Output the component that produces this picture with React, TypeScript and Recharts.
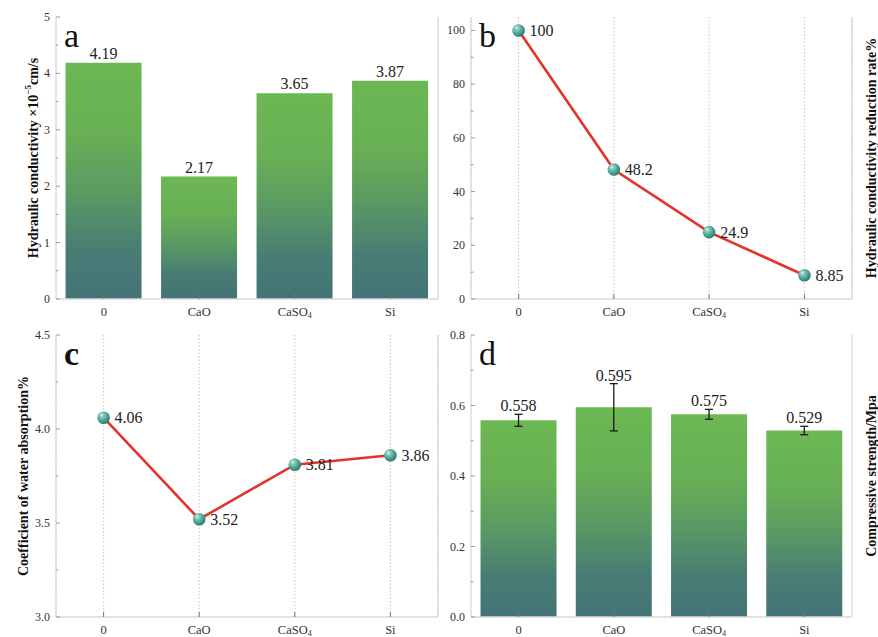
import React from 'react';
import {
  BarChart,
  Bar,
  LineChart,
  Line,
  XAxis,
  YAxis,
  CartesianGrid,
  LabelList,
  ErrorBar,
} from 'recharts';

// Sample groups shared by all four panels
const categories = ['0', 'CaO', 'CaSO4', 'Si'];

// (a) hydraulic conductivity, ×10^-5 cm/s
const conductivity = [4.19, 2.17, 3.65, 3.87];
// (b) hydraulic conductivity reduction rate, %
const reductionRate = [100, 48.2, 24.9, 8.85];
// (c) coefficient of water absorption, %
const waterAbsorption = [4.06, 3.52, 3.81, 3.86];
// (d) compressive strength, MPa, with its error
const strength = [0.558, 0.595, 0.575, 0.529];
const strengthErr = [0.017, 0.067, 0.014, 0.012];

// Y-axis ticks (major + minor)
const ticksA = [0, 0.5, 1, 1.5, 2, 2.5, 3, 3.5, 4, 4.5, 5];
const ticksB = [0, 10, 20, 30, 40, 50, 60, 70, 80, 90, 100];
const ticksC = [3, 3.25, 3.5, 3.75, 4, 4.25, 4.5];
const ticksD = [0, 0.1, 0.2, 0.3, 0.4, 0.5, 0.6, 0.7, 0.8];

const dataA = categories.map((name, i) => ({ name, value: conductivity[i] }));
const dataB = categories.map((name, i) => ({ name, value: reductionRate[i] }));
const dataC = categories.map((name, i) => ({ name, value: waterAbsorption[i] }));
const dataD = categories.map((name, i) => ({ name, value: strength[i], err: strengthErr[i] }));

const SERIF = '"Liberation Serif", "Times New Roman", serif';
const FRAME = '#d9d9d9';
const TICK_TEXT = '#333';
const TICK_MARGIN = 6;
const X_TICK_MARGIN = 8;
const LINE_RED = '#e3332b';
const GRID_TAN = '#d6c69c';

function YTick(props: any) {
  const { x, y, payload, step, digits } = props;
  const v = Number(payload.value);
  const ax = x + TICK_MARGIN;
  const major = Math.abs(v / step - Math.round(v / step)) < 1e-6;
  return (
    <g>
      <line x1={ax} x2={ax + (major ? 4 : 2.5)} y1={y} y2={y} stroke="#9a9a9a" strokeWidth={1} />
      {major && (
        <text
          x={x}
          y={y}
          textAnchor="end"
          dominantBaseline="central"
          fontFamily={SERIF}
          fontSize={12}
          fill={TICK_TEXT}
        >
          {v.toFixed(digits)}
        </text>
      )}
    </g>
  );
}

function XTick(props: any) {
  const { x, y, payload } = props;
  const axisY = y - X_TICK_MARGIN;
  const label = String(payload.value);
  const m = /^([A-Za-z]+)(\d+)$/.exec(label);
  return (
    <g>
      <line x1={x} x2={x} y1={axisY} y2={axisY - 5} stroke="#777" strokeWidth={1} />
      <text x={x} y={y + 8.5} textAnchor="middle" fontFamily={SERIF} fontSize={12.5} fill={TICK_TEXT}>
        {m ? (
          <>
            {m[1]}
            <tspan dy={2.5} fontSize={8}>
              {m[2]}
            </tspan>
          </>
        ) : (
          label
        )}
      </text>
    </g>
  );
}

// Left-axis decoration: the rotated axis title (optional) and the panel letter
function LeftDecor(props: any) {
  const { viewBox, dx, letter, bold, children } = props;
  const cx = viewBox.x + dx;
  const cy = viewBox.y + viewBox.height / 2;
  return (
    <g>
      {children && (
        <text
          x={cx}
          y={cy}
          transform={`rotate(-90 ${cx} ${cy})`}
          textAnchor="middle"
          dominantBaseline="central"
          fontFamily={SERIF}
          fontWeight="bold"
          fontSize={14}
          fill="#111"
        >
          {children}
        </text>
      )}
      <text
        x={viewBox.x + viewBox.width + 8}
        y={viewBox.y + 30}
        fontFamily={SERIF}
        fontSize={34}
        fontWeight={bold ? 'bold' : 'normal'}
        fill="#111"
      >
        {letter}
      </text>
    </g>
  );
}

function VTitle(props: any) {
  const { viewBox, dx, children } = props;
  const cx = viewBox.x + dx;
  const cy = viewBox.y + viewBox.height / 2;
  return (
    <text
      x={cx}
      y={cy}
      transform={`rotate(-90 ${cx} ${cy})`}
      textAnchor="middle"
      dominantBaseline="central"
      fontFamily={SERIF}
      fontWeight="bold"
      fontSize={14}
      fill="#111"
    >
      {children}
    </text>
  );
}

function StrengthLabel(props: any) {
  const vb = props.viewBox || {};
  const x = vb.x ?? props.x;
  const y = vb.y ?? props.y;
  const width = vb.width ?? props.width;
  const height = vb.height ?? props.height;
  const value = Number(props.value);
  const i = strength.indexOf(value);
  const err = i >= 0 ? strengthErr[i] : 0;
  const top = y - (err * Math.abs(height)) / value;
  return (
    <text x={x + width / 2} y={top - 3} textAnchor="middle" fontFamily={SERIF} fontSize={16} fill="#222">
      {value}
    </text>
  );
}

const ball = (gid: string) => (p: any) =>
  p.cx == null ? <g key={p.index} /> : <circle key={p.index} cx={p.cx} cy={p.cy} r={6.3} fill={`url(#${gid})`} />;

function BarGradient({ id }: { id: string }) {
  return (
    <linearGradient id={id} x1="0" y1="0" x2="0" y2="1">
      <stop offset="0" stopColor="#6cb853" />
      <stop offset="0.3" stopColor="#68b055" />
      <stop offset="0.55" stopColor="#5a9a63" />
      <stop offset="0.8" stopColor="#487c74" />
      <stop offset="1" stopColor="#447378" />
    </linearGradient>
  );
}

function BallGradient({ id }: { id: string }) {
  return (
    <radialGradient id={id} cx="0.4" cy="0.38" r="0.62" fx="0.33" fy="0.28">
      <stop offset="0" stopColor="#e6f6f1" />
      <stop offset="0.22" stopColor="#8fcfc2" />
      <stop offset="0.65" stopColor="#4aa596" />
      <stop offset="1" stopColor="#2e7d70" />
    </radialGradient>
  );
}

const axisLine = { stroke: FRAME, strokeWidth: 1.3 };
const sampleLabel = { fill: '#222', fontSize: 16 };

function TopFrame() {
  return null;
}

function PanelA() {
  return (
    <BarChart width={440} height={320} data={dataA} margin={{ top: 17, right: 0, bottom: 0, left: 0 }} barCategoryGap="10%">
      <defs>
        <BarGradient id="barGradA" />
      </defs>
      <XAxis
        dataKey="name"
        height={21}
        interval={0}
        tickSize={0}
        tickMargin={X_TICK_MARGIN}
        tickLine={false}
        axisLine={axisLine}
        tick={(p: any) => <XTick {...p} />}
      />
      <XAxis xAxisId="top" dataKey="name" orientation="top" height={0} tick={false} tickLine={false} axisLine={axisLine} />
      <YAxis
        width={56}
        type="number"
        domain={[0, 5]}
        ticks={ticksA}
        interval={0}
        tickSize={0}
        tickMargin={TICK_MARGIN}
        tickLine={false}
        axisLine={axisLine}
        tick={(p: any) => <YTick {...p} step={1} digits={0} />}
        label={(p: any) => (
          <LeftDecor {...p} dx={33} letter="a">
            Hydraulic conductivity ×10
            <tspan dy={-5} fontSize={9}>
              −5
            </tspan>
            <tspan dy={5}>cm/s</tspan>
          </LeftDecor>
        )}
      />
      <YAxis yAxisId="right" orientation="right" width={2} tick={false} tickLine={false} axisLine={axisLine} />
      <Bar dataKey="value" fill="url(#barGradA)" isAnimationActive={false}>
        <LabelList dataKey="value" position="top" offset={4} {...sampleLabel} />
      </Bar>
    </BarChart>
  );
}

function PanelB() {
  return (
    <LineChart width={440} height={320} data={dataB} margin={{ top: 17, right: 0, bottom: 0, left: 0 }}>
      <defs>
        <BallGradient id="ballB" />
      </defs>
      <CartesianGrid horizontal={false} stroke={GRID_TAN} strokeDasharray="1.5 2" />
      <XAxis
        dataKey="name"
        height={21}
        interval={0}
        padding={{ left: 47.6, right: 47.6 }}
        tickSize={0}
        tickMargin={X_TICK_MARGIN}
        tickLine={false}
        axisLine={axisLine}
        tick={(p: any) => <XTick {...p} />}
      />
      <XAxis xAxisId="top" dataKey="name" orientation="top" height={0} tick={false} tickLine={false} axisLine={axisLine} />
      <YAxis
        width={33}
        type="number"
        domain={[0, 105]}
        ticks={ticksB}
        interval={0}
        tickSize={0}
        tickMargin={TICK_MARGIN}
        tickLine={false}
        axisLine={axisLine}
        tick={(p: any) => <YTick {...p} step={20} digits={0} />}
        label={(p: any) => <LeftDecor {...p} dx={0} letter="b" />}
      />
      <YAxis
        yAxisId="right"
        orientation="right"
        width={26}
        tick={false}
        tickLine={false}
        axisLine={axisLine}
        label={(p: any) => (
          <VTitle {...p} dx={19}>
            Hydraulic conductivity reduction rate%
          </VTitle>
        )}
      />
      <Line
        dataKey="value"
        stroke={LINE_RED}
        strokeWidth={2.6}
        dot={ball('ballB')}
        activeDot={false}
        isAnimationActive={false}
      >
        <LabelList dataKey="value" position="right" offset={11} {...sampleLabel} />
      </Line>
    </LineChart>
  );
}

function PanelC() {
  return (
    <LineChart width={440} height={319} data={dataC} margin={{ top: 17, right: 0, bottom: 0, left: 0 }}>
      <defs>
        <BallGradient id="ballC" />
      </defs>
      <CartesianGrid horizontal={false} stroke={GRID_TAN} strokeDasharray="1.5 2" />
      <XAxis
        dataKey="name"
        height={20}
        interval={0}
        padding={{ left: 47.6, right: 47.6 }}
        tickSize={0}
        tickMargin={X_TICK_MARGIN}
        tickLine={false}
        axisLine={axisLine}
        tick={(p: any) => <XTick {...p} />}
      />
      <XAxis xAxisId="top" dataKey="name" orientation="top" height={0} tick={false} tickLine={false} axisLine={axisLine} />
      <YAxis
        width={56}
        type="number"
        domain={[3, 4.5]}
        ticks={ticksC}
        interval={0}
        tickSize={0}
        tickMargin={TICK_MARGIN}
        tickLine={false}
        axisLine={axisLine}
        tick={(p: any) => <YTick {...p} step={0.5} digits={1} />}
        label={(p: any) => (
          <LeftDecor {...p} dx={23} letter="c" bold>
            Coefficient of water absorption%
          </LeftDecor>
        )}
      />
      <YAxis yAxisId="right" orientation="right" width={2} tick={false} tickLine={false} axisLine={axisLine} />
      <Line
        dataKey="value"
        stroke={LINE_RED}
        strokeWidth={2.6}
        dot={ball('ballC')}
        activeDot={false}
        isAnimationActive={false}
      >
        <LabelList dataKey="value" position="right" offset={11} {...sampleLabel} />
      </Line>
    </LineChart>
  );
}

function PanelD() {
  return (
    <BarChart width={440} height={319} data={dataD} margin={{ top: 17, right: 0, bottom: 0, left: 0 }} barCategoryGap="10%">
      <defs>
        <BarGradient id="barGradD" />
      </defs>
      <XAxis
        dataKey="name"
        height={20}
        interval={0}
        tickSize={0}
        tickMargin={X_TICK_MARGIN}
        tickLine={false}
        axisLine={axisLine}
        tick={(p: any) => <XTick {...p} />}
      />
      <XAxis xAxisId="top" dataKey="name" orientation="top" height={0} tick={false} tickLine={false} axisLine={axisLine} />
      <YAxis
        width={33}
        type="number"
        domain={[0, 0.8]}
        ticks={ticksD}
        interval={0}
        tickSize={0}
        tickMargin={TICK_MARGIN}
        tickLine={false}
        axisLine={axisLine}
        tick={(p: any) => <YTick {...p} step={0.2} digits={1} />}
        label={(p: any) => <LeftDecor {...p} dx={0} letter="d" />}
      />
      <YAxis
        yAxisId="right"
        orientation="right"
        width={26}
        tick={false}
        tickLine={false}
        axisLine={axisLine}
        label={(p: any) => (
          <VTitle {...p} dx={19}>
            Compressive strength/Mpa
          </VTitle>
        )}
      />
      <Bar dataKey="value" fill="url(#barGradD)" isAnimationActive={false}>
        <ErrorBar dataKey="err" direction="y" width={4} stroke="#1a1a1a" strokeWidth={1.3} />
        <LabelList dataKey="value" content={(p: any) => <StrengthLabel {...p} />} />
      </Bar>
    </BarChart>
  );
}

export default function App() {
  return (
    <div
      style={{
        position: 'absolute',
        left: 0,
        top: 0,
        width: 878,
        height: 637,
        background: '#fff',
        overflow: 'hidden',
        fontFamily: SERIF,
      }}
    >
      <div style={{ position: 'absolute', left: 0, top: 0 }}>
        <PanelA />
      </div>
      <div style={{ position: 'absolute', left: 438, top: 0 }}>
        <PanelB />
      </div>
      <div style={{ position: 'absolute', left: 0, top: 318 }}>
        <PanelC />
      </div>
      <div style={{ position: 'absolute', left: 438, top: 318 }}>
        <PanelD />
      </div>
    </div>
  );
}
